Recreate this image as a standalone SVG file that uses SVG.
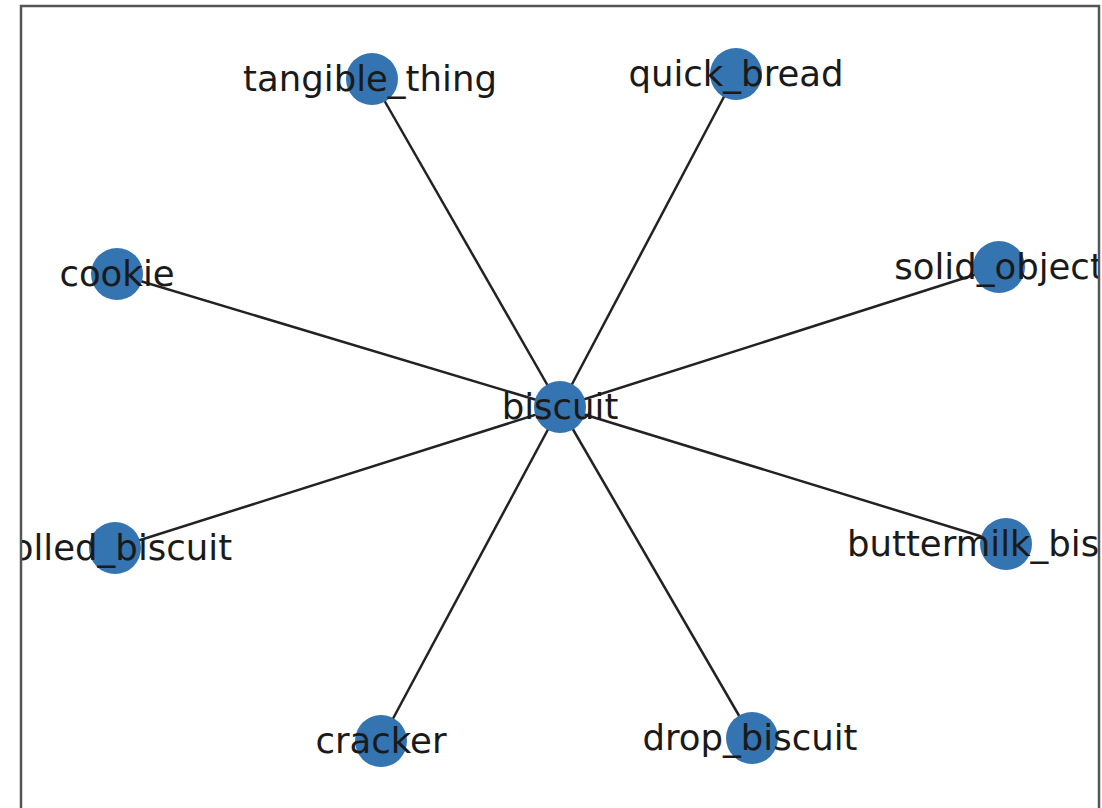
<svg xmlns="http://www.w3.org/2000/svg" width="1102" height="808" viewBox="0 0 1102 808">
  <style>
    .edge { stroke: #222; stroke-width: 2.5; fill: none; }
    .node circle { fill: #3474b0; }
    .node text { font-family: "DejaVu Sans", sans-serif; font-size: 35.5px; fill: #1a1a1a; text-anchor: middle; }
  </style>
  <defs>
    <clipPath id="axes">
      <rect x="21" y="6" width="1078" height="804"/>
    </clipPath>
  </defs>
  <rect x="0" y="0" width="1102" height="808" fill="#fff"/>
  <g clip-path="url(#axes)">
    <g id="edges">
      <line class="edge" x1="560" y1="407" x2="372" y2="79"/>
      <line class="edge" x1="560" y1="407" x2="736" y2="74"/>
      <line class="edge" x1="560" y1="407" x2="999" y2="267"/>
      <line class="edge" x1="560" y1="407" x2="117" y2="274"/>
      <line class="edge" x1="560" y1="407" x2="115" y2="548"/>
      <line class="edge" x1="560" y1="407" x2="1006" y2="544"/>
      <line class="edge" x1="560" y1="407" x2="381" y2="741"/>
      <line class="edge" x1="560" y1="407" x2="752" y2="738"/>
    </g>
    <g id="node-biscuit" class="node"><circle cx="560" cy="407" r="26"/><text x="560" y="419">biscuit</text></g>
    <g id="node-tangible_thing" class="node"><circle cx="372" cy="79" r="26"/><text x="370" y="91">tangible_thing</text></g>
    <g id="node-quick_bread" class="node"><circle cx="736" cy="74" r="26"/><text x="736" y="86">quick_bread</text></g>
    <g id="node-solid_object" class="node"><circle cx="999" cy="267" r="26"/><text x="999" y="279">solid_object</text></g>
    <g id="node-cookie" class="node"><circle cx="117" cy="274" r="26"/><text x="117" y="286">cookie</text></g>
    <g id="node-rolled_biscuit" class="node"><circle cx="115" cy="548" r="26"/><text x="115" y="560">rolled_biscuit</text></g>
    <g id="node-buttermilk_biscuit" class="node"><circle cx="1006" cy="544" r="26"/><text x="1006" y="556">buttermilk_biscuit</text></g>
    <g id="node-cracker" class="node"><circle cx="381" cy="741" r="26"/><text x="381" y="753">cracker</text></g>
    <g id="node-drop_biscuit" class="node"><circle cx="752" cy="738" r="26"/><text x="750" y="750">drop_biscuit</text></g>
  </g>
  <rect id="frame" x="21" y="6" width="1078" height="804" fill="none" stroke="#555" stroke-width="2.5"/>
</svg>
